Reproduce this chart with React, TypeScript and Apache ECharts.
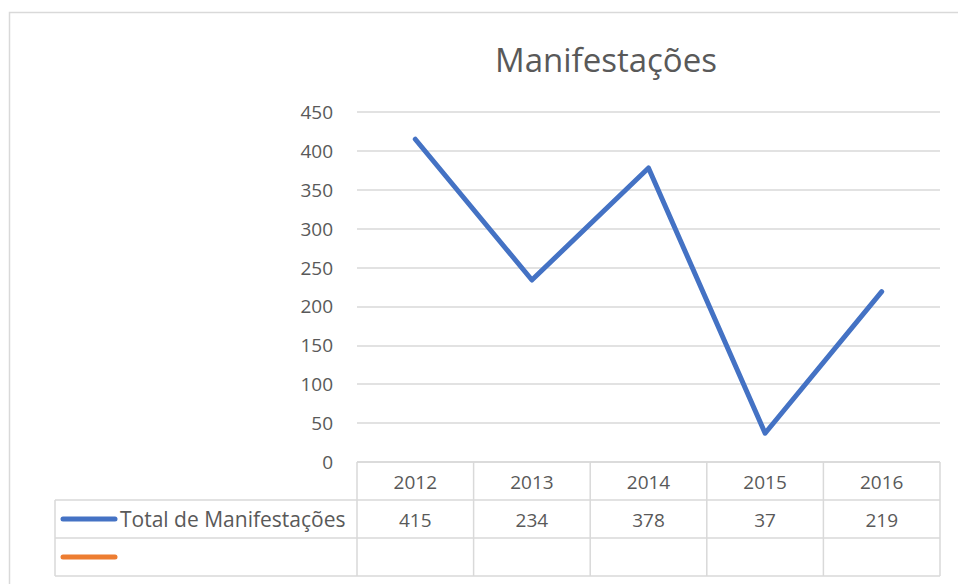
import React, { useEffect, useRef } from "react";
import * as echarts from "echarts";

const title = "Manifestações";
const years = ["2012", "2013", "2014", "2015", "2016"];
const seriesName = "Total de Manifestações";
const totals = [415, 234, 378, 37, 219];
const yMin = 0;
const yMax = 450;
const yInterval = 50;

const FONT = "'Open Sans', 'Noto Sans', sans-serif";
const TEXT = "#595959";
const LINE = "#d9d9d9";
const BLUE = "#4472C4";
const ORANGE = "#ED7D31";

export default function App() {
  const ref = useRef<HTMLDivElement>(null);
  useEffect(() => {
    const el = ref.current!;
    const chart = echarts.init(el, null, { renderer: "svg" });
    chart.setOption({
      animation: false,
      backgroundColor: "#ffffff",
      title: {
        text: title,
        left: 601,
        top: 38,
        textAlign: "center",
        textStyle: { fontFamily: FONT, fontSize: 33, fontWeight: "normal", color: TEXT },
      },
      grid: { left: 357, top: 112, width: 583, height: 350 },
      xAxis: {
        type: "category",
        data: years,
        boundaryGap: true,
        axisLine: { show: false },
        axisTick: { show: false },
        axisLabel: { show: false },
      },
      yAxis: {
        type: "value",
        min: yMin,
        max: yMax,
        interval: yInterval,
        axisLine: { show: false },
        axisTick: { show: false },
        axisLabel: { fontFamily: FONT, fontSize: 19, color: TEXT, margin: 24 },
        splitLine: { lineStyle: { color: LINE, width: 1.5 } },
      },
      series: [
        {
          name: seriesName,
          type: "line",
          data: totals,
          showSymbol: false,
          lineStyle: { color: BLUE, width: 5, cap: "round", join: "round" },
          itemStyle: { color: BLUE },
        },
      ],
    });

    const centers = years.map((y) => chart.convertToPixel({ xAxisIndex: 0 }, y) as number);
    const step = centers.length > 1 ? centers[1] - centers[0] : 116;
    const left = centers[0] - step / 2;
    const right = centers[centers.length - 1] + step / 2;
    const top = chart.convertToPixel({ yAxisIndex: 0 }, yMin) as number;
    const rowH = 38;
    const legendLeft = 55;
    const bottom = top + rowH * 3;
    const g: any[] = [];
    const ln = (x1: number, y1: number, x2: number, y2: number) =>
      g.push({ type: "line", shape: { x1, y1, x2, y2 }, style: { stroke: LINE, lineWidth: 1.5 }, silent: true });
    // outer border
    g.push({ type: "rect", shape: { x: 9.5, y: 12.5, width: 1000, height: 700 }, style: { fill: "none", stroke: LINE, lineWidth: 1.5 } });
    ln(left, top, right, top);
    ln(legendLeft, top + rowH, right, top + rowH);
    ln(legendLeft, top + rowH * 2, right, top + rowH * 2);
    ln(legendLeft, bottom, right, bottom);
    ln(legendLeft, top + rowH, legendLeft, bottom);
    for (let i = 0; i <= years.length; i++) {
      const x = left + step * i;
      ln(x, top, x, bottom);
    }
    years.forEach((y, i) => {
      g.push({ type: "text", x: centers[i], y: top + rowH / 2 + 1, style: { text: y, fill: TEXT, font: `19px ${FONT}`, align: "center", verticalAlign: "middle" } });
      g.push({ type: "text", x: centers[i], y: top + rowH * 1.5 + 1, style: { text: String(totals[i]), fill: TEXT, font: `19px ${FONT}`, align: "center", verticalAlign: "middle" } });
    });
    g.push({ type: "line", shape: { x1: 63, y1: top + rowH * 1.5, x2: 115, y2: top + rowH * 1.5 }, style: { stroke: BLUE, lineWidth: 5, lineCap: "round" } });
    g.push({ type: "text", x: 120, y: top + rowH * 1.5, style: { text: seriesName, fill: TEXT, font: `21px ${FONT}`, align: "left", verticalAlign: "middle" } });
    g.push({ type: "line", shape: { x1: 63, y1: top + rowH * 2.5, x2: 115, y2: top + rowH * 2.5 }, style: { stroke: ORANGE, lineWidth: 5, lineCap: "round" } });
    chart.setOption({ graphic: g });

    return () => chart.dispose();
  }, []);
  return <div ref={ref} style={{ position: "fixed", left: 0, top: 0, width: 958, height: 584 }} />;
}
